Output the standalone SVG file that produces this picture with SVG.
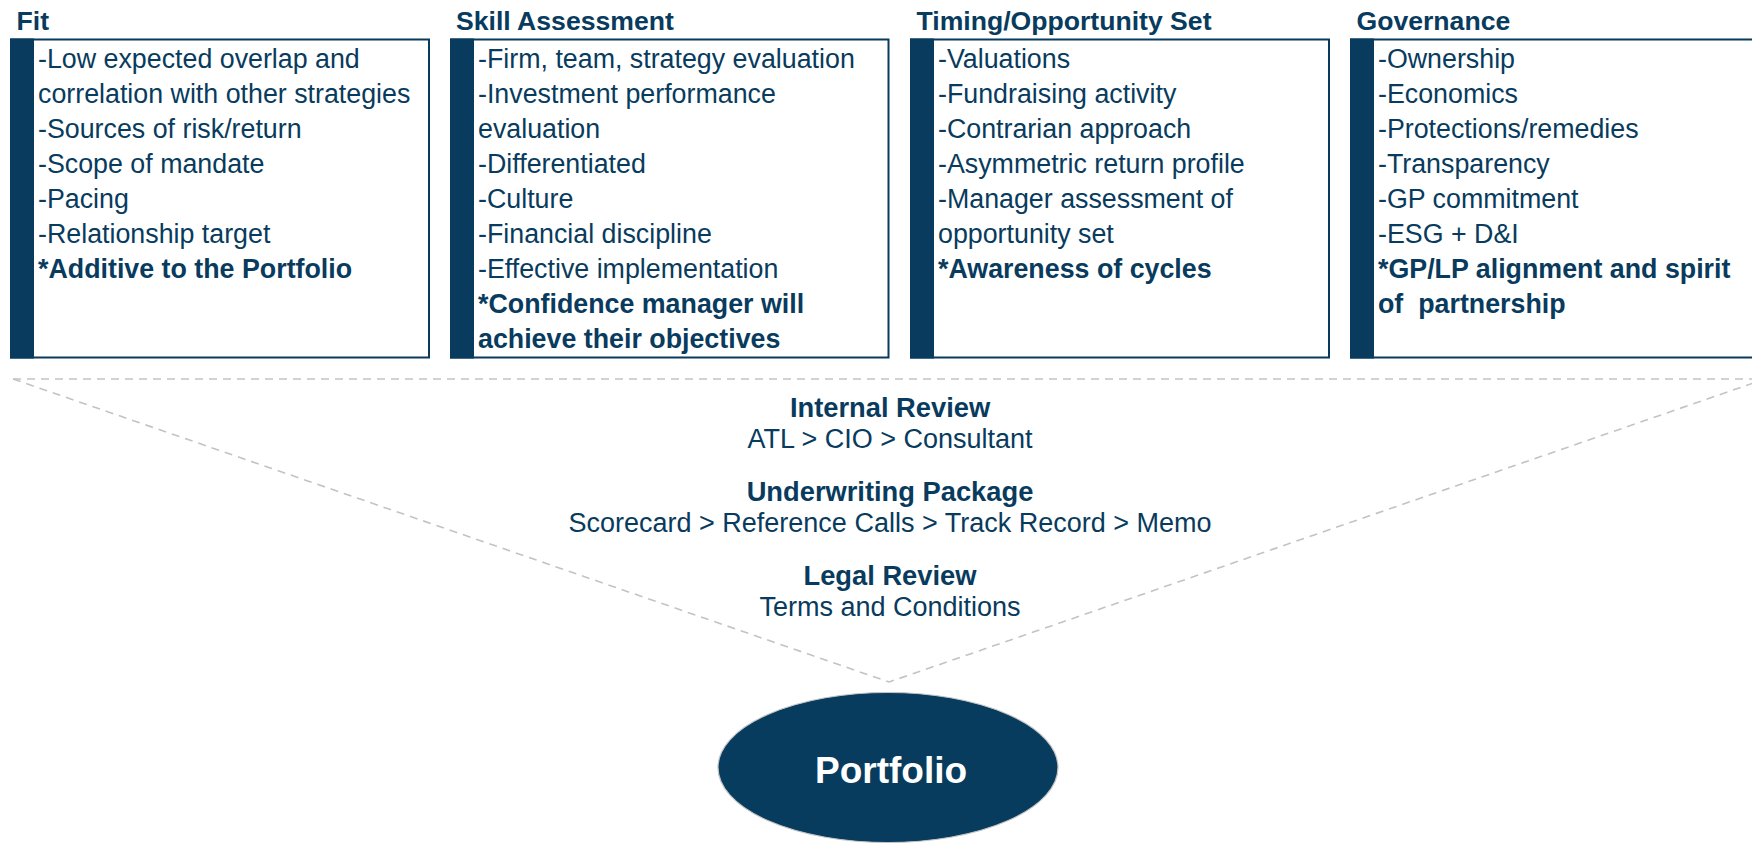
<svg xmlns="http://www.w3.org/2000/svg" width="1752" height="845" viewBox="0 0 1752 845">
<style>
text{font-family:"Liberation Sans",Arial,sans-serif;fill:#083B5D}
.t{font-size:26.6px;font-weight:bold}
.b{font-size:26.8px}
.bb{font-size:26.8px;font-weight:bold}
.m{font-size:27px}
.mb{font-size:27.3px;font-weight:bold}
.box{fill:#fff;stroke:#083B5D;stroke-width:2}
.bar{fill:#083B5D}
.dash{fill:none;stroke:#C3C3C3;stroke-width:1.6;stroke-dasharray:8 6}
.c{text-anchor:middle}
.pre{white-space:pre}
</style>
<rect width="1752" height="845" fill="#fff"/>
<g id="connectors">
<line class="dash" x1="13" y1="379" x2="1752" y2="379"/>
<polyline class="dash" points="13,379 889,682 1765,379"/>
</g>
<g id="fit">
<text class="t" x="16.5" y="30">Fit</text>
<rect class="box" x="11" y="39.5" width="418" height="318"/>
<rect class="bar" x="10" y="38.5" width="24" height="320"/>
<text class="b" x="38" y="68.3">-Low expected overlap and</text>
<text class="b" x="38" y="103.2">correlation with other strategies</text>
<text class="b" x="38" y="138.1">-Sources of risk/return</text>
<text class="b" x="38" y="173">-Scope of mandate</text>
<text class="b" x="38" y="207.9">-Pacing</text>
<text class="b" x="38" y="242.8">-Relationship target</text>
<text class="bb" x="38" y="277.7">*Additive to the Portfolio</text>
</g>
<g id="skill">
<text class="t" x="456" y="30">Skill Assessment</text>
<rect class="box" x="451" y="39.5" width="437.5" height="318"/>
<rect class="bar" x="450" y="38.5" width="24" height="320"/>
<text class="b" x="478" y="68.3">-Firm, team, strategy evaluation</text>
<text class="b" x="478" y="103.2">-Investment performance</text>
<text class="b" x="478" y="138.1">evaluation</text>
<text class="b" x="478" y="173">-Differentiated</text>
<text class="b" x="478" y="207.9">-Culture</text>
<text class="b" x="478" y="242.8">-Financial discipline</text>
<text class="b" x="478" y="277.7">-Effective implementation</text>
<text class="bb" x="478" y="312.6">*Confidence manager will</text>
<text class="bb" x="478" y="347.5">achieve their objectives</text>
</g>
<g id="timing">
<text class="t" x="916.5" y="30">Timing/Opportunity Set</text>
<rect class="box" x="911" y="39.5" width="418" height="318"/>
<rect class="bar" x="910" y="38.5" width="24" height="320"/>
<text class="b" x="938" y="68.3">-Valuations</text>
<text class="b" x="938" y="103.2">-Fundraising activity</text>
<text class="b" x="938" y="138.1">-Contrarian approach</text>
<text class="b" x="938" y="173">-Asymmetric return profile</text>
<text class="b" x="938" y="207.9">-Manager assessment of</text>
<text class="b" x="938" y="242.8">opportunity set</text>
<text class="bb" x="938" y="277.7">*Awareness of cycles</text>
</g>
<g id="governance">
<text class="t" x="1356.5" y="30">Governance</text>
<rect class="box" x="1351" y="39.5" width="418" height="318"/>
<rect class="bar" x="1350" y="38.5" width="24" height="320"/>
<text class="b" x="1378" y="68.3">-Ownership</text>
<text class="b" x="1378" y="103.2">-Economics</text>
<text class="b" x="1378" y="138.1">-Protections/remedies</text>
<text class="b" x="1378" y="173">-Transparency</text>
<text class="b" x="1378" y="207.9">-GP commitment</text>
<text class="b" x="1378" y="242.8">-ESG + D&amp;I</text>
<text class="bb" x="1378" y="277.7">*GP/LP alignment and spirit</text>
<text class="bb pre" x="1378" y="312.6" xml:space="preserve">of  partnership</text>
</g>
<g id="process">
<text class="mb c" x="890" y="417">Internal Review</text>
<text class="m c" x="890" y="448">ATL &gt; CIO &gt; Consultant</text>
<text class="mb c" x="890" y="501">Underwriting Package</text>
<text class="m c" x="890" y="532">Scorecard &gt; Reference Calls &gt; Track Record &gt; Memo</text>
<text class="mb c" x="890" y="585">Legal Review</text>
<text class="m c" x="890" y="616">Terms and Conditions</text>
</g>
<g id="portfolio">
<ellipse cx="888" cy="767.5" rx="170" ry="75" fill="#073C5E" stroke="#C3C3C3" stroke-width="1.2"/>
<text class="c" x="891" y="783" style="font-size:37px;font-weight:bold;fill:#fff">Portfolio</text>
</g>
</svg>
